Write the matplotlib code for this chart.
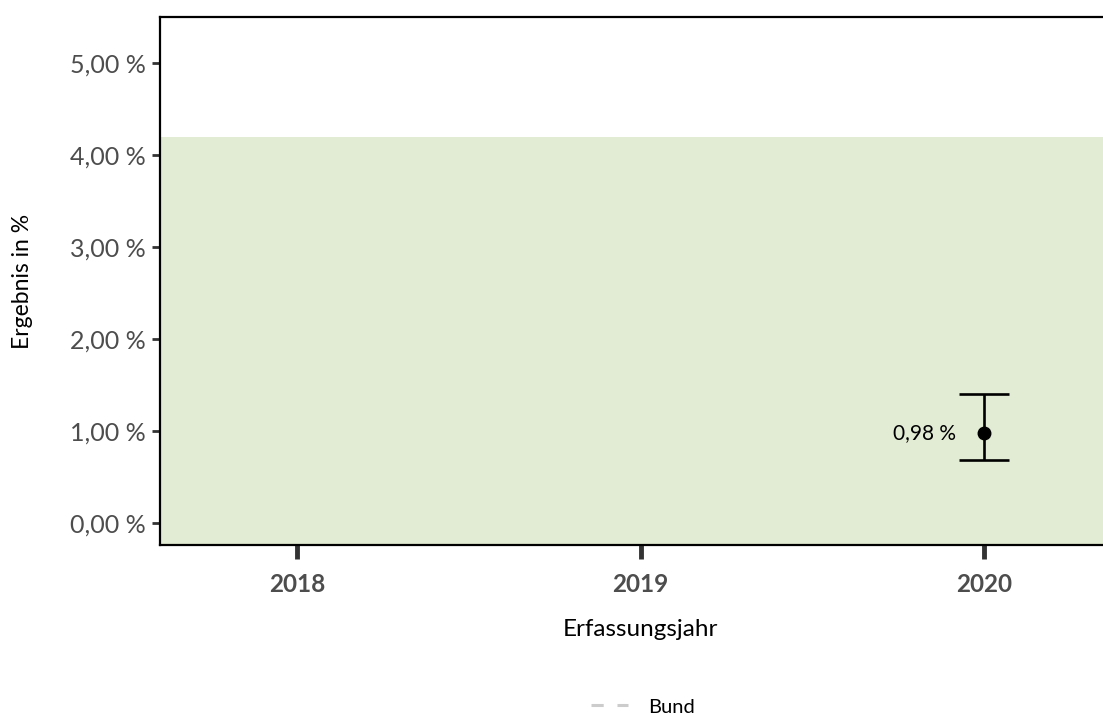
import matplotlib
matplotlib.use('Agg')
import matplotlib.pyplot as plt

plt.rcParams['font.family'] = ['Lato', 'DejaVu Sans']

# data
years = [2018, 2019, 2020]
year_labels = ['2018', '2019', '2020']
result_year = [2020]
result_value = [0.98]
ci_low = [0.68]
ci_high = [1.40]
value_labels = ['0,98 %']
ref_high = 4.2
bund_years = []
bund_values = []
y_ticks = [0, 1, 2, 3, 4, 5]
y_tick_labels = ['0,00 %', '1,00 %', '2,00 %', '3,00 %', '4,00 %', '5,00 %']

fig = plt.figure(figsize=(11.03, 7.17), dpi=100)
ax = fig.add_axes([0.145, 0.240, 0.855, 0.736])
ax.set_xlim(2017.6, 2020.347)
ax.set_ylim(-0.24, 5.5)

# reference range (green band, down to the axis bottom)
ax.axhspan(ax.get_ylim()[0], ref_high, color='#e2ebd3', lw=0, zorder=0)

# Bund line (no data shown, legend only)
ax.plot(bund_years, bund_values, color='#cccccc', linestyle=(0, (4, 4.5)), lw=2.2, label='Bund')

# result with confidence interval
err = [[v - lo for v, lo in zip(result_value, ci_low)],
       [hi - v for v, hi in zip(result_value, ci_high)]]
ax.errorbar(result_year, result_value, yerr=err, fmt='o', color='black',
            ms=9, elinewidth=1.9, capsize=18, capthick=1.9, zorder=3)
for x, y, s in zip(result_year, result_value, value_labels):
    ax.annotate(s, (x, y), xytext=(-20, 0), textcoords='offset points',
                ha='right', va='center', fontsize=15, color='black')

ax.set_xticks(years)
ax.set_xticklabels(year_labels, fontweight='bold')
ax.set_yticks(y_ticks)
ax.set_yticklabels(y_tick_labels)

ax.tick_params(axis='y', length=6, width=2, color='#333333', labelsize=18,
               labelcolor='#4d4d4d', pad=4)
ax.tick_params(axis='x', length=10, width=3.5, color='#333333', labelsize=17.5,
               labelcolor='#4d4d4d', pad=10)

for side in ['left', 'bottom', 'top']:
    ax.spines[side].set_linewidth(1.6)
    ax.spines[side].set_color('black')
ax.spines['right'].set_visible(False)

ax.set_xlabel('Erfassungsjahr', fontsize=17.5, va='center')
ax.set_ylabel('Ergebnis in %', fontsize=16.5, va='center')
ax.xaxis.set_label_coords(0.509, -0.161)
ax.yaxis.set_label_coords(-0.146, 0.5)

fig.legend(loc='center', bbox_to_anchor=(0.583, 0.014), frameon=False,
           fontsize=14.5, handlelength=1.8, handletextpad=1.0)

fig.savefig('out.png', dpi=100)
